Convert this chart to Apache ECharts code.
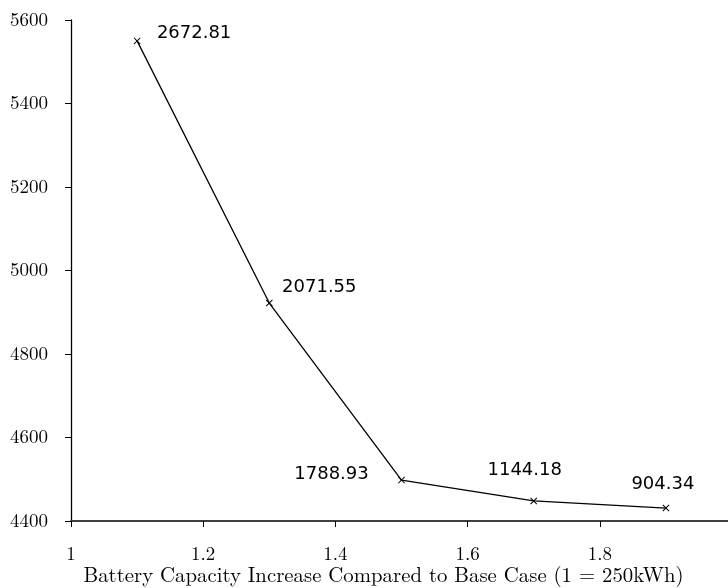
<!DOCTYPE html>
<html><head><meta charset="utf-8">
<script src="https://cdn.jsdelivr.net/npm/echarts@6/dist/echarts.min.js"></script>
<style>html,body{margin:0;padding:0;background:#fff;overflow:hidden}#c{width:728px;height:588px}</style>
</head><body><div id="c"></div>
<script>
const xValues = [1.1, 1.3, 1.5, 1.7, 1.9];
const yValues = [5550, 4922, 4498, 4448, 4431];
const pointLabels = ['2672.81', '2071.55', '1788.93', '1144.18', '904.34'];
const labelOffsets = [[57, -8], [50, -16], [-70, -6], [-9, -31], [-3, -24]];
const xAxisTitle = 'Battery Capacity Increase Compared to Base Case (1 = 250kWh)';

const chart = echarts.init(document.getElementById('c'));
const serif = '"Latin Modern Roman", "DejaVu Serif", serif';
chart.setOption({
  animation: false,
  grid: {left: 71, top: 20, bottom: 67, right: -4, outerBoundsMode: 'none', containLabel: false},
  xAxis: {
    type: 'value', min: 1, max: 2, interval: 0.2,
    name: xAxisTitle, nameLocation: 'middle', nameGap: 44, nameMoveOverlap: false,
    nameTextStyle: {fontFamily: serif, fontSize: 20.8, color: '#000', padding: [0, 36, 0, 0]},
    axisLine: {show: true, lineStyle: {color: '#404040', width: 2}},
    axisTick: {show: true, inside: false, length: 6, lineStyle: {color: '#000', width: 1}},
    axisLabel: {margin: 24, fontFamily: serif, fontSize: 19, color: '#000',
      formatter: v => String(Math.round(v * 10) / 10)},
    splitLine: {show: false}
  },
  yAxis: {
    type: 'value', min: 4400, max: 5600, interval: 200,
    axisLine: {show: true, lineStyle: {color: '#000', width: 1.3}},
    axisTick: {show: true, length: 6, lineStyle: {color: '#000'}},
    axisLabel: {margin: 23, fontFamily: serif, fontSize: 19, color: '#000',
      formatter: v => String(v)},
    splitLine: {show: false}
  },
  series: [{
    type: 'line',
    data: xValues.map((x, i) => ({
      value: [x, yValues[i]],
      label: {show: true, formatter: pointLabels[i], position: 'inside', offset: labelOffsets[i]}
    })),
    lineStyle: {color: '#000', width: 1.3},
    symbol: 'path://M0,1 L1,0 L5,4 L9,0 L10,1 L6,5 L10,9 L9,10 L5,6 L1,10 L0,9 L4,5 Z',
    symbolSize: 7,
    itemStyle: {color: '#000'},
    label: {fontFamily: '"DejaVu Sans", sans-serif', fontSize: 18, color: '#000'}
  }]
});
</script></body></html>
